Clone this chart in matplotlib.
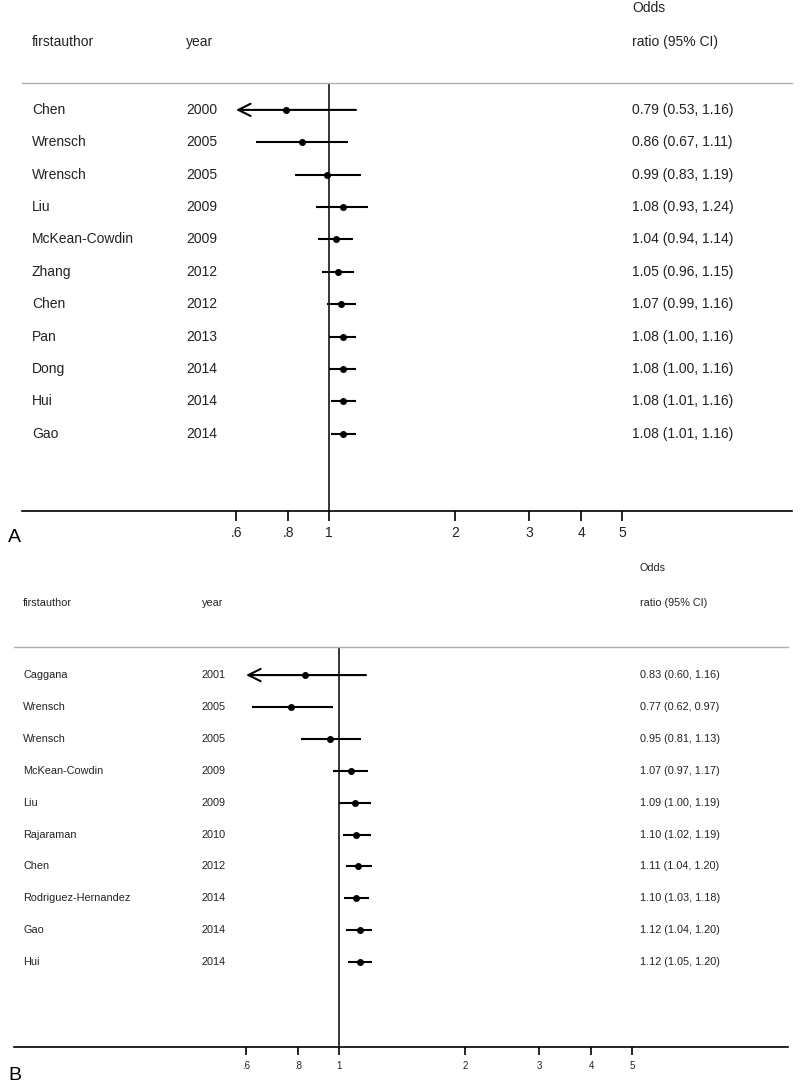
import numpy as np
import matplotlib
matplotlib.use("Agg")
import matplotlib.pyplot as plt
from matplotlib.transforms import blended_transform_factory

plt.rcParams["font.family"] = ["Liberation Sans", "DejaVu Sans"]

# panel A
authors_a = ["Chen", "Wrensch", "Wrensch", "Liu", "McKean-Cowdin", "Zhang",
             "Chen", "Pan", "Dong", "Hui", "Gao"]
years_a = [2000, 2005, 2005, 2009, 2009, 2012, 2012, 2013, 2014, 2014, 2014]
or_a = [0.79, 0.86, 0.99, 1.08, 1.04, 1.05, 1.07, 1.08, 1.08, 1.08, 1.08]
lo_a = [0.53, 0.67, 0.83, 0.93, 0.94, 0.96, 0.99, 1.00, 1.00, 1.01, 1.01]
hi_a = [1.16, 1.11, 1.19, 1.24, 1.14, 1.15, 1.16, 1.16, 1.16, 1.16, 1.16]

# panel B
authors_b = ["Caggana", "Wrensch", "Wrensch", "McKean-Cowdin", "Liu", "Rajaraman",
             "Chen", "Rodriguez-Hernandez", "Gao", "Hui"]
years_b = [2001, 2005, 2005, 2009, 2009, 2010, 2012, 2014, 2014, 2014]
or_b = [0.83, 0.77, 0.95, 1.07, 1.09, 1.10, 1.11, 1.10, 1.12, 1.12]
lo_b = [0.60, 0.62, 0.81, 0.97, 1.00, 1.02, 1.04, 1.03, 1.04, 1.05]
hi_b = [1.16, 0.97, 1.13, 1.17, 1.19, 1.19, 1.20, 1.18, 1.20, 1.20]

ticks = [0.6, 0.8, 1, 2, 3, 4, 5]
tick_labels = [".6", ".8", "1", "2", "3", "4", "5"]
x_min = 0.6

W, H = 800, 1086
fig = plt.figure(figsize=(W / 100, H / 100), dpi=100)


def forest(box, ref_px, ylim, authors, years, ors, los, his, cols,
           head_y, odds_y, fs, tick_fs, lw, tick_len, label, label_y):
    left, right, top, bottom = box
    ax = fig.add_axes([left / W, 1 - bottom / H, (right - left) / W, (bottom - top) / H])
    ax.set_xscale("log")
    # pixel scale: 182 px per log unit, reference line at ref_px
    ax.set_xlim(np.exp((left - ref_px) / 182), np.exp((right - ref_px) / 182))
    ax.set_ylim(*ylim)
    ax.axvline(1, color="black", lw=1.1, zorder=1)

    rows = np.arange(len(authors))
    for i in rows:
        lo = max(los[i], x_min)
        if los[i] <= x_min:
            # CI runs past the axis range: open arrow at the left edge
            ax.annotate("", xy=(lo, i), xytext=(his[i], i),
                        arrowprops=dict(arrowstyle="->", lw=lw, color="black",
                                        mutation_scale=22, shrinkA=0, shrinkB=0))
        else:
            ax.plot([lo, his[i]], [i, i], color="black", lw=lw, solid_capstyle="butt")
    ax.plot(ors, rows, "o", color="black", ms=4, zorder=3)

    tr = blended_transform_factory(ax.transAxes, ax.transData)
    fx = lambda px: (px - left) / (right - left)
    txt = dict(transform=tr, fontsize=fs, va="center", ha="left",
               color="#222222", clip_on=False)
    for i in rows:
        ax.text(fx(cols[0]), i, authors[i], **txt)
        ax.text(fx(cols[1]), i, str(years[i]), **txt)
        ax.text(fx(cols[2]), i, f"{ors[i]:.2f} ({los[i]:.2f}, {his[i]:.2f})", **txt)
    ax.text(fx(cols[0]), head_y, "firstauthor", **txt)
    ax.text(fx(cols[1]), head_y, "year", **txt)
    ax.text(fx(cols[2]), head_y, "ratio (95% CI)", **txt)
    ax.text(fx(cols[2]), odds_y, "Odds", **txt)

    for s in ["left", "right"]:
        ax.spines[s].set_visible(False)
    ax.spines["top"].set_color("#b0b0b0")
    ax.spines["top"].set_linewidth(1.0)
    ax.spines["bottom"].set_linewidth(1.2)
    ax.set_yticks([])
    ax.set_xticks(ticks)
    ax.set_xticklabels(tick_labels)
    ax.minorticks_off()
    ax.tick_params(axis="x", length=tick_len, width=1.2, labelsize=tick_fs,
                   pad=4, colors="black", labelcolor="#222222")
    fig.text(8 / W, 1 - label_y / H, label, fontsize=14, va="center", ha="left")
    return ax


forest((22, 792, 83, 511), 329, (12.38, -0.83), authors_a, years_a, or_a, lo_a, hi_a,
       (32, 186, 632), -2.1, -3.15, 10, 10, 1.5, 7, "A", 537)
forest((14, 788, 647, 1047), 339, (11.66, -0.88), authors_b, years_b, or_b, lo_b, hi_b,
       (23, 202, 640), -2.26, -3.35, 7.8, 7, 1.5, 6, "B", 1076)

fig.savefig("out.png", dpi=100)
